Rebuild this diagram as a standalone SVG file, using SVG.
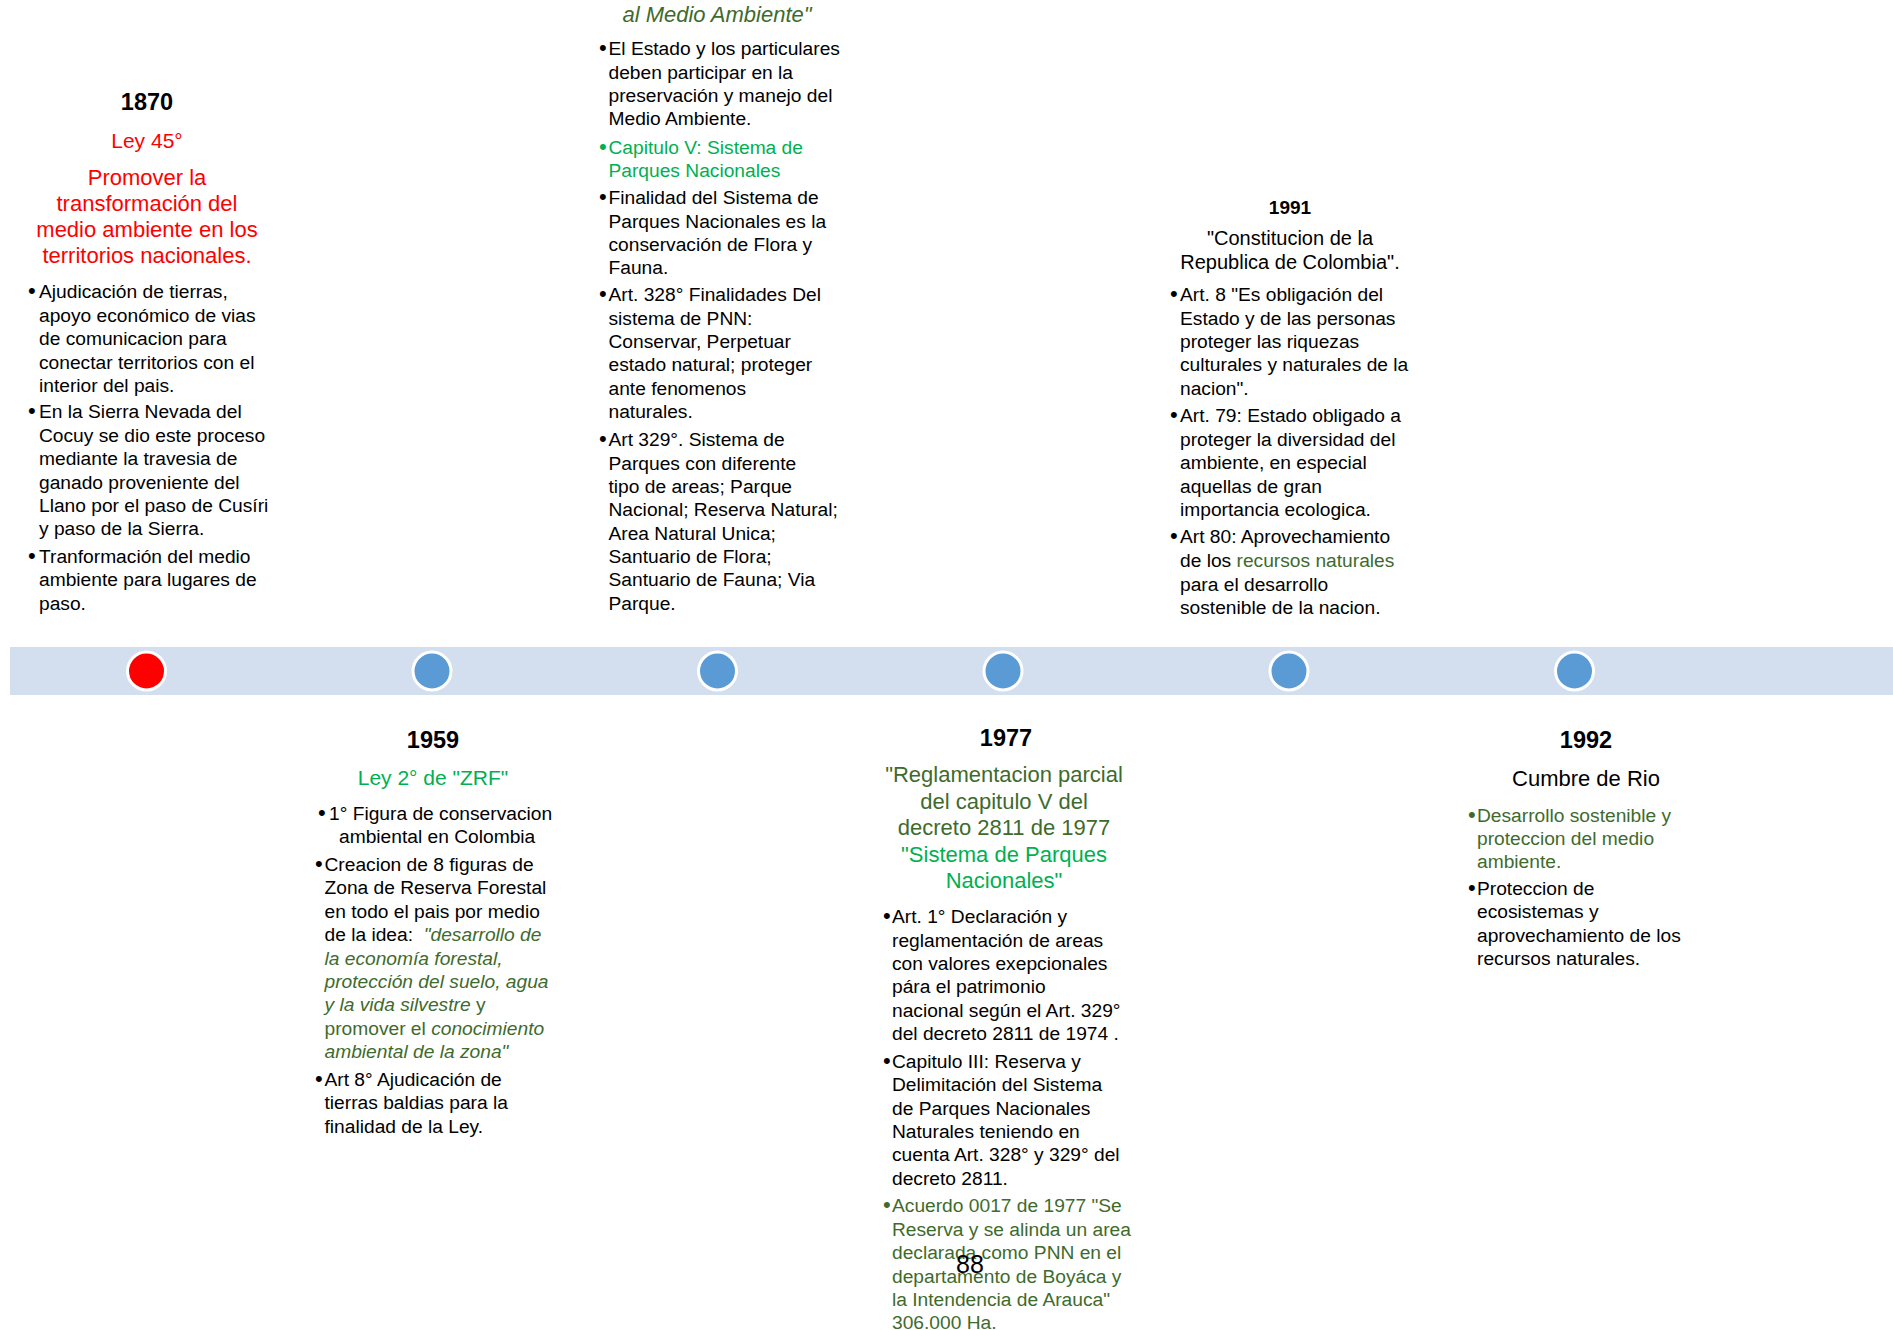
<svg xmlns="http://www.w3.org/2000/svg" width="1893" height="1330" viewBox="0 0 1893 1330">
<style>
text{font-family:"Liberation Sans",Arial,sans-serif;fill:#000}
.yr{font-size:23.5px;font-weight:bold;text-anchor:middle}
.yr2{font-size:19px;font-weight:bold;text-anchor:middle}
.h{font-size:22px;text-anchor:middle}
.hl{font-size:21px;text-anchor:middle}
.hs{font-size:20px;text-anchor:middle}
.b{font-size:19.2px}
.b text.u{font-size:22px}
.red{fill:#FF0000}
.g{fill:#00B050}
.dg{fill:#3E6B2C}
.it{font-style:italic}
.dot{fill:#5B9BD5;stroke:#FFFFFF;stroke-width:3}
.dotr{fill:#FF0000;stroke:#FFFFFF;stroke-width:3}
</style>
<rect width="1893" height="1330" fill="#FFFFFF"/>
<g id="connectors">
<rect x="10" y="647" width="1883" height="48" fill="#D3DEEF"/>
</g>
<g id="markers">
<circle id="m1870" class="dotr" cx="146.5" cy="671" r="19"/>
<circle id="m1959" class="dot" cx="432" cy="671" r="19"/>
<circle id="m1974" class="dot" cx="717.5" cy="671" r="19"/>
<circle id="m1977" class="dot" cx="1003" cy="671" r="19"/>
<circle id="m1991" class="dot" cx="1289" cy="671" r="19"/>
<circle id="m1992" class="dot" cx="1574.5" cy="671" r="19"/>
</g>
<g id="node-1870">
<text class="yr" x="147" y="110">1870</text>
<text class="hl red" x="147" y="148">Ley 45°</text>
<text class="h red" x="147" y="184.5">Promover la</text>
<text class="h red" x="147" y="211">transformación del</text>
<text class="h red" x="147" y="236.5">medio ambiente en los</text>
<text class="h red" x="147" y="263">territorios nacionales.</text>
<g class="b">
<text class="u" x="28" y="298">•</text>
<text x="39" y="298">Ajudicación de tierras,</text>
<text x="39" y="321.5">apoyo económico de vias</text>
<text x="39" y="344.5">de comunicacion para</text>
<text x="39" y="368.5">conectar territorios con el</text>
<text x="39" y="391.5">interior del pais.</text>
<text class="u" x="28" y="418">•</text>
<text x="39" y="418">En la Sierra Nevada del</text>
<text x="39" y="442">Cocuy se dio este proceso</text>
<text x="39" y="465">mediante la travesia de</text>
<text x="39" y="489">ganado proveniente del</text>
<text x="39" y="512">Llano por el paso de Cusíri</text>
<text x="39" y="535">y paso de la Sierra.</text>
<text class="u" x="28" y="563">•</text>
<text x="39" y="563">Tranformación del medio</text>
<text x="39" y="586">ambiente para lugares de</text>
<text x="39" y="610">paso.</text>
</g>
</g>
<g id="node-1959">
<text class="yr" x="433" y="748">1959</text>
<text class="hl g" x="433" y="784.5">Ley 2° de "ZRF"</text>
<g class="b">
<text class="u" x="318" y="820">•</text>
<text x="329" y="820">1° Figura de conservacion</text>
<text x="339" y="843">ambiental en Colombia</text>
<text class="u" x="315" y="870.5">•</text>
<text x="324.5" y="870.5">Creacion de 8 figuras de</text>
<text x="324.5" y="893.5">Zona de Reserva Forestal</text>
<text x="324.5" y="917.5">en todo el pais por medio</text>
<text x="324.5" y="940.5" xml:space="preserve">de la idea:  <tspan class="dg it">"desarrollo de</tspan></text>
<text x="324.5" y="964.6" class="dg it">la economía forestal,</text>
<text x="324.5" y="987.5" class="dg it">protección del suelo, agua</text>
<text x="324.5" y="1010.5" class="dg"><tspan class="it">y la vida silvestre</tspan> y</text>
<text x="324.5" y="1034.6" class="dg">promover el <tspan class="it">conocimiento</tspan></text>
<text x="324.5" y="1057.6" class="dg it">ambiental de la zona"</text>
<text class="u" x="315" y="1085.5">•</text>
<text x="324.5" y="1085.5">Art 8° Ajudicación de</text>
<text x="324.5" y="1108.5">tierras baldias para la</text>
<text x="324.5" y="1132.5">finalidad de la Ley.</text>
</g>
</g>
<g id="node-1974">
<text class="h dg it" x="717" y="22">al Medio Ambiente"</text>
<g class="b">
<text class="u" x="599" y="55">•</text>
<text x="608.5" y="55">El Estado y los particulares</text>
<text x="608.5" y="79">deben participar en la</text>
<text x="608.5" y="102">preservación y manejo del</text>
<text x="608.5" y="125">Medio Ambiente.</text>
<text class="u g" x="599" y="154">•</text>
<text x="608.5" y="154" class="g">Capitulo V: Sistema de</text>
<text x="608.5" y="177" class="g">Parques Nacionales</text>
<text class="u" x="599" y="203.5">•</text>
<text x="608.5" y="203.5">Finalidad del Sistema de</text>
<text x="608.5" y="227.5">Parques Nacionales es la</text>
<text x="608.5" y="250.5">conservación de Flora y</text>
<text x="608.5" y="273.5">Fauna.</text>
<text class="u" x="599" y="301">•</text>
<text x="608.5" y="301">Art. 328° Finalidades Del</text>
<text x="608.5" y="325">sistema de PNN:</text>
<text x="608.5" y="348">Conservar, Perpetuar</text>
<text x="608.5" y="371">estado natural; proteger</text>
<text x="608.5" y="395">ante fenomenos</text>
<text x="608.5" y="418">naturales.</text>
<text class="u" x="599" y="446">•</text>
<text x="608.5" y="446">Art 329°. Sistema de</text>
<text x="608.5" y="470">Parques con diferente</text>
<text x="608.5" y="493">tipo de areas; Parque</text>
<text x="608.5" y="516">Nacional; Reserva Natural;</text>
<text x="608.5" y="540">Area Natural Unica;</text>
<text x="608.5" y="563">Santuario de Flora;</text>
<text x="608.5" y="586">Santuario de Fauna; Via</text>
<text x="608.5" y="610">Parque.</text>
</g>
</g>
<g id="node-1977">
<text class="yr" x="1006" y="745.5">1977</text>
<text class="h dg" x="1004" y="782">"Reglamentacion parcial</text>
<text class="h dg" x="1004" y="808.7">del capitulo V del</text>
<text class="h dg" x="1004" y="835.2">decreto 2811 de 1977</text>
<text class="h g" x="1004" y="861.8">"Sistema de Parques</text>
<text class="h g" x="1004" y="888.3">Nacionales"</text>
<g class="b">
<text class="u" x="883" y="923">•</text>
<text x="892" y="923">Art. 1° Declaración y</text>
<text x="892" y="947">reglamentación de areas</text>
<text x="892" y="970">con valores exepcionales</text>
<text x="892" y="993">pára el patrimonio</text>
<text x="892" y="1017">nacional según el Art. 329°</text>
<text x="892" y="1040">del decreto 2811 de 1974 .</text>
<text class="u" x="883" y="1068">•</text>
<text x="892" y="1068">Capitulo III: Reserva y</text>
<text x="892" y="1091">Delimitación del Sistema</text>
<text x="892" y="1115">de Parques Nacionales</text>
<text x="892" y="1138">Naturales teniendo en</text>
<text x="892" y="1161">cuenta Art. 328° y 329° del</text>
<text x="892" y="1185">decreto 2811.</text>
<text class="u dg" x="883" y="1211.5">•</text>
<text x="892" y="1211.5" class="dg">Acuerdo 0017 de 1977 "Se</text>
<text x="892" y="1235.5" class="dg">Reserva y se alinda un area</text>
<text x="892" y="1258.5" class="dg">declarada como PNN en el</text>
<text x="892" y="1282.5" class="dg">departamento de Boyáca y</text>
<text x="892" y="1305.5" class="dg">la Intendencia de Arauca"</text>
<text x="892" y="1328.5" class="dg">306.000 Ha.</text>
</g>
</g>
<g id="node-1991">
<text class="yr2" x="1290" y="213.5">1991</text>
<text class="hs" x="1290" y="244.5">"Constitucion de la</text>
<text class="hs" x="1290" y="268.5">Republica de Colombia".</text>
<g class="b">
<text class="u" x="1170" y="301">•</text>
<text x="1180" y="301">Art. 8 "Es obligación del</text>
<text x="1180" y="325">Estado y de las personas</text>
<text x="1180" y="348">proteger las riquezas</text>
<text x="1180" y="371">culturales y naturales de la</text>
<text x="1180" y="395">nacion".</text>
<text class="u" x="1170" y="421.5">•</text>
<text x="1180" y="421.5">Art. 79: Estado obligado a</text>
<text x="1180" y="445.5">proteger la diversidad del</text>
<text x="1180" y="468.5">ambiente, en especial</text>
<text x="1180" y="492.5">aquellas de gran</text>
<text x="1180" y="515.5">importancia ecologica.</text>
<text class="u" x="1170" y="542.5">•</text>
<text x="1180" y="542.5">Art 80: Aprovechamiento</text>
<text x="1180" y="566.5">de los <tspan class="dg">recursos naturales</tspan></text>
<text x="1180" y="590.5">para el desarrollo</text>
<text x="1180" y="613.5">sostenible de la nacion.</text>
</g>
</g>
<g id="node-1992">
<text class="yr" x="1586" y="748">1992</text>
<text class="h" x="1586" y="785.7">Cumbre de Rio</text>
<g class="b">
<text class="u dg" x="1468" y="821.5">•</text>
<text x="1477" y="821.5" class="dg">Desarrollo sostenible y</text>
<text x="1477" y="844.5" class="dg">proteccion del medio</text>
<text x="1477" y="867.5" class="dg">ambiente.</text>
<text class="u" x="1468" y="895">•</text>
<text x="1477" y="895">Proteccion de</text>
<text x="1477" y="918">ecosistemas y</text>
<text x="1477" y="942">aprovechamiento de los</text>
<text x="1477" y="965">recursos naturales.</text>
</g>
</g>
<g id="page-number">
<text x="970" y="1273" font-size="25px" text-anchor="middle">88</text>
</g>
</svg>
